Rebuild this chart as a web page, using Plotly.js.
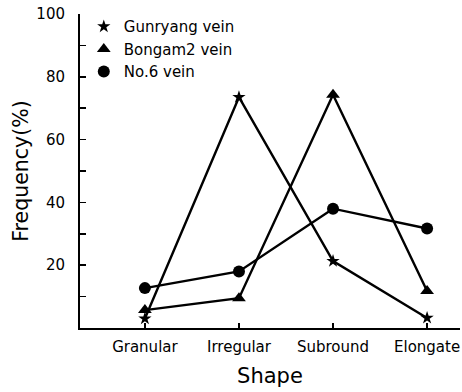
<!DOCTYPE html>
<html>
<head>
<meta charset="utf-8">
<script src="https://cdn.plot.ly/plotly-3.0.1.min.js"></script>
<style>html,body{margin:0;padding:0;background:#fff}#chart{width:462px;height:392px}</style>
</head>
<body>
<div id="chart"></div>
<script>
const categories = ["Granular", "Irregular", "Subround", "Elongate"];
const gunryang = [3, 73.5, 21.3, 3.2];
const bongam2 = [5.7, 9.5, 74.3, 11.8];
const no6 = [12.7, 18, 38, 31.7];
const seriesNames = ["Gunryang vein", "Bongam2 vein", "No.6 vein"];
const yTicks = [20, 40, 60, 80, 100];

const xIdx = categories.map((c, i) => i);
const series = [
  {y: gunryang, sym: "star", size: 10},
  {y: bongam2, sym: "triangle-up", size: 12},
  {y: no6, sym: "circle", size: 12}
];
const data = [];
series.forEach((s, k) => {
  data.push({x: xIdx, y: s.y, mode: "lines", showlegend: false, hoverinfo: "skip",
    line: {color: "#000", width: 2.4}});
});
series.forEach((s, k) => {
  data.push({x: xIdx, y: s.y, mode: "markers", name: seriesNames[k],
    marker: {symbol: s.sym, size: s.size, color: "#000", line: {width: 0}}});
});

const font = {family: "DejaVu Sans, Liberation Sans, Arial, sans-serif", color: "#000"};
const layout = {
  width: 462, height: 392,
  margin: {l: 80, r: 2, t: 14, b: 64},
  paper_bgcolor: "#fff", plot_bgcolor: "#fff",
  font: Object.assign({size: 14}, font),
  showlegend: true,
  legend: {x: 0.01, y: 1.012, xanchor: "left", yanchor: "top", bgcolor: "rgba(0,0,0,0)",
    font: Object.assign({size: 15}, font), tracegroupgap: 0, itemwidth: 30},
  xaxis: {
    range: [-0.69, 3.35], tickvals: xIdx, ticktext: categories,
    showgrid: false, zeroline: false, showline: true, linecolor: "#000", linewidth: 2,
    ticks: "inside", ticklen: 5, tickwidth: 1.5, tickcolor: "#000",
    tickfont: Object.assign({size: 15}, font), ticklabelstandoff: 4,
    title: {text: "Shape", font: Object.assign({size: 21}, font), standoff: 13}
  },
  yaxis: {
    range: [0, 100], tickvals: yTicks, ticktext: yTicks.map(String),
    showgrid: false, zeroline: false, showline: true, linecolor: "#000", linewidth: 2,
    ticks: "inside", ticklen: 6, tickwidth: 1.5, tickcolor: "#000",
    minor: {dtick: 10, ticks: "inside", ticklen: 6, tickwidth: 1.5, tickcolor: "#000", showgrid: false},
    tickfont: Object.assign({size: 15}, font), ticklabelstandoff: 10,
    title: {text: "Frequency(%)", font: Object.assign({size: 20.5}, font), standoff: 2}
  }
};
Plotly.newPlot("chart", data, layout, {displayModeBar: false, staticPlot: true});
</script>
</body>
</html>
